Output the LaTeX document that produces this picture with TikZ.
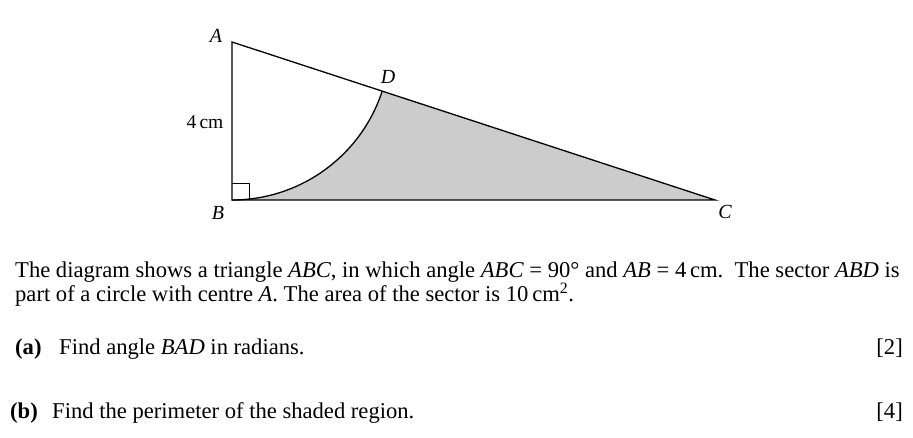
\documentclass[tikz,border=0pt]{standalone}
\usepackage{fontspec}
\setmainfont{Liberation Serif}
\begin{document}
\begin{tikzpicture}[x=1pt,y=1pt,
  edge/.style={line width=1.3pt, line join=miter},
  lbl/.style={inner sep=0pt, font=\fontsize{20}{22}\selectfont\itshape},
  txt/.style={inner sep=0pt, anchor=base west, font=\fontsize{22.6}{25}\selectfont},
  txtr/.style={inner sep=0pt, anchor=base east, font=\fontsize{22.6}{25}\selectfont}]
\useasboundingbox (0,0) rectangle (913,437);
\coordinate (A) at (232,395);
\coordinate (B) at (232,237);
\coordinate (C) at (715,237);
\coordinate (D) at (382.2,345.9);
% shaded region
\fill[gray!40] (B) -- (C) -- (D) arc[start angle=-18.11, end angle=-90, radius=158] -- cycle;
\draw[edge] (D) arc[start angle=-18.11, end angle=-90, radius=158];
\draw[edge] (A) -- (B) -- (C) -- cycle;
\draw[line width=0.8pt] (232,254) -- (249,254) -- (249,237);
% labels
\node[lbl] (lA) at (216,401) {A};
\node[lbl] (lD) at (388,360) {D};
\node[lbl] (lB) at (218,224) {B};
\node[lbl] (lC) at (725,225) {C};
\node[inner sep=0pt, font=\fontsize{19.5}{22}\selectfont] (l4) at (205,315) {4\,cm};
% text
\node[txt] (t1) at (15,160) {The diagram shows a triangle \textit{ABC}, in which angle \textit{ABC} = 90° and \textit{AB} = 4\,cm.\ \ The sector \textit{ABD} is};
\node[txt] (t2) at (15,136) {part of a circle with centre \textit{A}. The area of the sector is 10\,cm\textsuperscript{2}.};
\node[txt] (ta) at (15,83) {\textbf{(a)}};
\node[txt] (ta2) at (59,83) {Find angle \textit{BAD} in radians.};
\node[txtr] (ma) at (903,83) {[2]};
\node[txt] (tb) at (10,19) {\textbf{(b)}};
\node[txt] (tb2) at (52,19) {Find the perimeter of the shaded region.};
\node[txtr] (mb) at (903,19) {[4]};
\end{tikzpicture}
\end{document}
